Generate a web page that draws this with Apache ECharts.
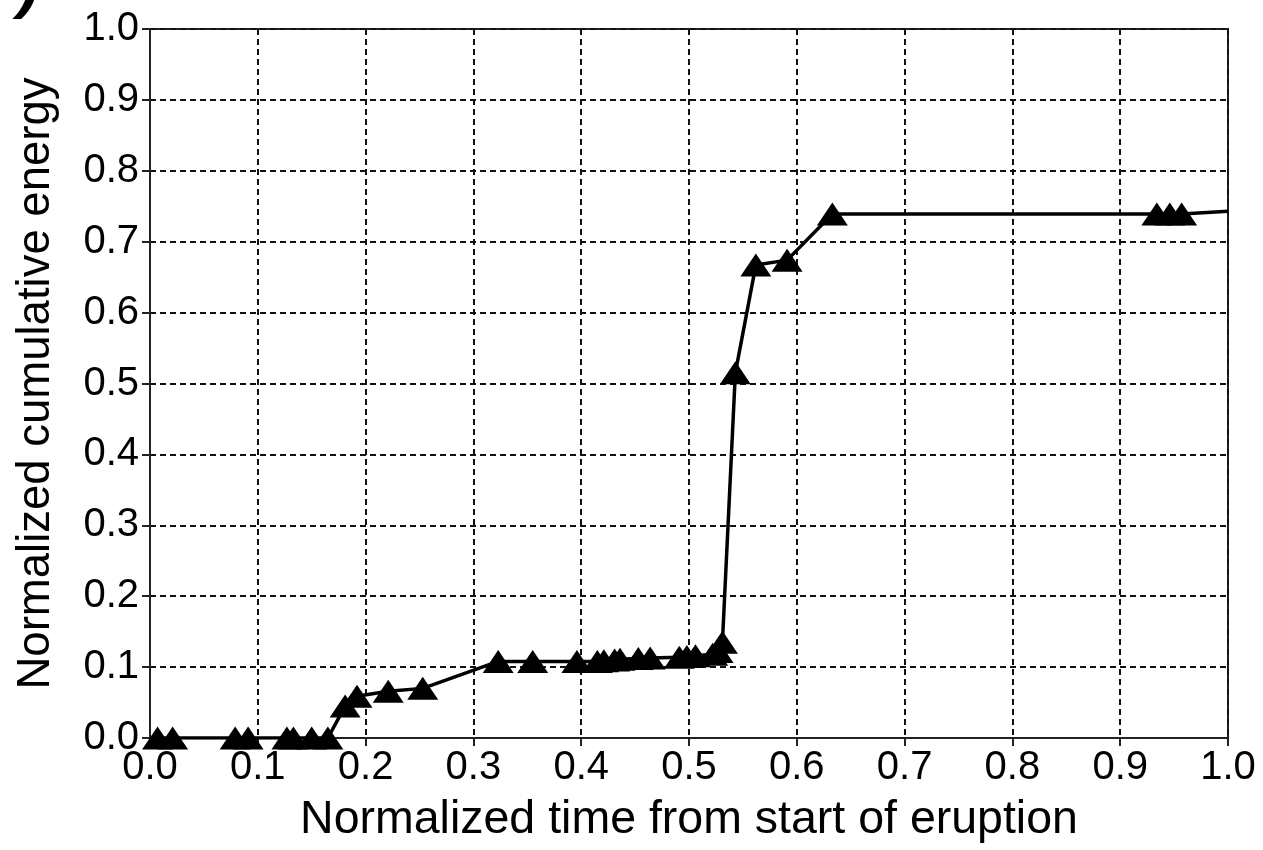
<!DOCTYPE html>
<html>
<head>
<meta charset="utf-8">
<script src="https://cdn.jsdelivr.net/npm/echarts@6/dist/echarts.min.js"></script>
<style>
  html, body { margin: 0; padding: 0; background: #ffffff; }
  #chart { width: 1263px; height: 850px; }
</style>
</head>
<body>
<div id="chart"></div>
<script>
// Normalized time (fraction of eruption duration) of each event
const timeVals = [
  0.007, 0.021, 0.079, 0.091, 0.127, 0.133, 0.150, 0.165,
  0.181, 0.192, 0.221, 0.253,
  0.323, 0.355, 0.396, 0.415, 0.421, 0.431, 0.436, 0.453, 0.464,
  0.491, 0.498, 0.506, 0.522, 0.527, 0.531,
  0.543, 0.562, 0.591, 0.633,
  0.934, 0.946, 0.957, 1.0
];
// Normalized cumulative energy released up to each event
const energyVals = [
  0, 0, 0, 0, 0, 0, 0, 0,
  0.045, 0.059, 0.066, 0.070,
  0.108, 0.108, 0.108, 0.108, 0.109, 0.110, 0.111, 0.112, 0.113,
  0.114, 0.115, 0.116, 0.118, 0.122, 0.135,
  0.515, 0.667, 0.674, 0.739,
  0.739, 0.739, 0.739, 0.743
];
// last entry only continues the curve to the frame edge (no marker)
const markerless = [false, false, false, false, false, false, false, false,
  false, false, false, false, false, false, false, false, false, false, false,
  false, false, false, false, false, false, false, false, false, false, false,
  false, false, false, false, true];

const xTickLabels = ['0.0','0.1','0.2','0.3','0.4','0.5','0.6','0.7','0.8','0.9','1.0'];
const yTickLabels = ['0.0','0.1','0.2','0.3','0.4','0.5','0.6','0.7','0.8','0.9','1.0'];

const FONT = "'Liberation Sans', Arial, Helvetica, sans-serif";
const INK = '#000000';

const points = timeVals.map((t, i) => markerless[i]
  ? { value: [t, energyVals[i]], symbol: 'none' }
  : { value: [t, energyVals[i]] });

const chart = echarts.init(document.getElementById('chart'), null, { renderer: 'canvas' });

const gridLine = { show: true, lineStyle: { color: '#111', width: 2, type: [6, 4] } };

chart.setOption({
  animation: false,
  backgroundColor: '#ffffff',
  grid: {
    left: 150, right: 35, top: 29, bottom: 112,
    show: true, borderColor: '#222', borderWidth: 2, backgroundColor: 'transparent'
  },
  xAxis: {
    type: 'value', min: 0, max: 1, interval: 0.1,
    name: 'Normalized time from start of eruption',
    nameLocation: 'middle', nameGap: 59,
    nameTextStyle: { fontFamily: FONT, fontSize: 46.5, color: INK },
    axisLine: { show: true, onZero: false, lineStyle: { color: '#222', width: 2 } },
    axisTick: { show: true, inside: false, length: 8, lineStyle: { color: '#222', width: 2 } },
    axisLabel: {
      fontFamily: FONT, fontSize: 40, color: INK, margin: 10,
      formatter: (v) => xTickLabels[Math.round(v * 10)]
    },
    splitLine: gridLine
  },
  yAxis: {
    type: 'value', min: 0, max: 1, interval: 0.1,
    name: 'Normalized cumulative energy',
    nameLocation: 'middle', nameGap: 91, nameRotate: 90,
    nameTextStyle: { fontFamily: FONT, fontSize: 45.5, color: INK },
    axisLine: { show: true, onZero: false, lineStyle: { color: '#222', width: 2 } },
    axisTick: { show: true, inside: false, length: 8, lineStyle: { color: '#222', width: 2 } },
    axisLabel: {
      fontFamily: FONT, fontSize: 40, color: INK, margin: 11,
      formatter: (v) => yTickLabels[Math.round(v * 10)]
    },
    splitLine: gridLine
  },
  graphic: [{
    type: 'text', left: 18, top: -44, silent: true,
    style: { text: ')', fontFamily: FONT, fontSize: 64, fontWeight: 'bold', fontStyle: 'italic', fill: INK }
  }],
  series: [{
    type: 'line',
    data: points,
    symbol: 'triangle',
    symbolSize: [31, 23],
    showAllSymbol: true,
    clip: true,
    lineStyle: { color: '#000', width: 3.5 },
    itemStyle: { color: '#000', borderWidth: 0 },
    emphasis: { disabled: true },
    z: 5
  }]
});
</script>
</body>
</html>
